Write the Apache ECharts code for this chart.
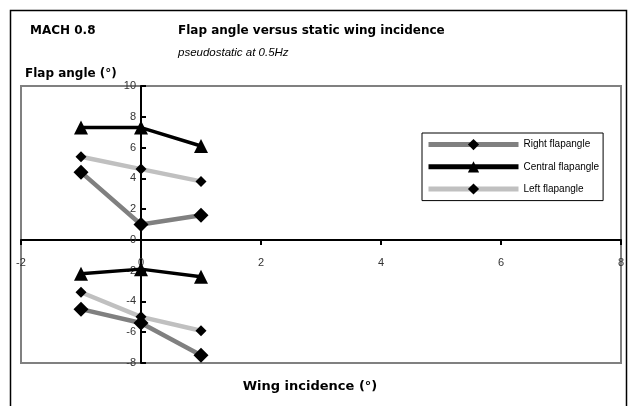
<!DOCTYPE html>
<html>
<head>
<meta charset="utf-8">
<script src="https://cdn.jsdelivr.net/npm/echarts@6/dist/echarts.min.js"></script>
<style>html,body{margin:0;padding:0;background:#fff;}#chart{width:629px;height:406px;}</style>
</head>
<body>
<div id="chart"></div>
<script>
// Data
const incidence = [-1, 0, 1];
const rightUpper = [4.4, 1.0, 1.6];
const rightLower = [-4.5, -5.4, -7.5];
const centralUpper = [7.3, 7.3, 6.1];
const centralLower = [-2.2, -1.9, -2.4];
const leftUpper = [5.4, 4.6, 3.8];
const leftLower = [-3.4, -5.0, -5.9];
const xTicks = { min: -2, max: 8, interval: 2 };
const yTicks = { min: -8, max: 10, interval: 2 };
const seriesNames = ['Right flapangle', 'Central flapangle', 'Left flapangle'];

const pairs = (ys) => incidence.map((x, i) => [x, ys[i]]);

const styles = {
  'Right flapangle': { color: '#808080', width: 4.5, symbol: 'diamond', size: 15 },
  'Central flapangle': { color: '#000000', width: 3.5, symbol: 'triangle', size: 14 },
  'Left flapangle': { color: '#c0c0c0', width: 4.5, symbol: 'diamond', size: 11 }
};

function mk(name, ys) {
  const s = styles[name];
  return {
    name: name, type: 'line', data: pairs(ys),
    symbol: s.symbol, symbolSize: s.size, showSymbol: true,
    lineStyle: { color: s.color, width: s.width },
    itemStyle: { color: '#000' },
    emphasis: { disabled: true }, animation: false
  };
}

const chart = echarts.init(document.getElementById('chart'));
const txtFont = 'DejaVu Sans';
const grid = { left: 21, right: 8, top: 86, bottom: 43 };
chart.setOption({
  animation: false,
  grid: Object.assign({ show: true, borderColor: '#808080', borderWidth: 2, containLabel: false }, grid),
  xAxis: {
    type: 'value', min: xTicks.min, max: xTicks.max, interval: xTicks.interval,
    axisLine: { onZero: false, lineStyle: { color: '#000', width: 2 } },
    axisTick: { show: true, inside: false, length: 5, lineStyle: { color: '#000', width: 2 } },
    axisLabel: { margin: 18, color: '#333', fontFamily: 'Liberation Sans', fontSize: 11 },
    splitLine: { show: false }
  },
  yAxis: {
    type: 'value', min: yTicks.min, max: yTicks.max, interval: yTicks.interval,
    axisLine: { onZero: false, lineStyle: { color: '#000', width: 2 } },
    axisTick: { show: true, inside: true, length: 5, lineStyle: { color: '#000', width: 2 } },
    axisLabel: { margin: 5, color: '#333', fontFamily: 'Liberation Sans', fontSize: 11 },
    splitLine: { show: false }
  },
  legend: {
    data: seriesNames.map(n => ({ name: n, lineStyle: { width: 5, color: styles[n].color } })),
    orient: 'vertical', left: 422, top: 133,
    itemWidth: 90, itemHeight: 14, itemGap: 11,
    padding: [6, 4, 6, 4], borderColor: '#000', borderWidth: 1, backgroundColor: '#fff',
    textStyle: { fontFamily: 'Liberation Sans', fontSize: 10, color: '#000' },
    selectedMode: false
  },
  graphic: [
    { type: 'rect', shape: { x: 10.5, y: 10.5, width: 616, height: 420 }, style: { fill: 'none', stroke: '#000', lineWidth: 1.5 }, silent: true, z: -1 },
    { type: 'text', x: 30, y: 31, style: { text: 'MACH 0.8', font: 'bold 12px "' + txtFont + '"', fill: '#000', textVerticalAlign: 'middle' } },
    { type: 'text', x: 178, y: 31, style: { text: 'Flap angle versus static wing incidence', font: 'bold 12px "' + txtFont + '"', fill: '#000', textVerticalAlign: 'middle' } },
    { type: 'text', x: 178, y: 53, style: { text: 'pseudostatic at 0.5Hz', font: 'italic 11.5px "Liberation Sans"', fill: '#000', textVerticalAlign: 'middle' } },
    { type: 'text', x: 25, y: 74, style: { text: 'Flap angle (°)', font: 'bold 12px "' + txtFont + '"', fill: '#000', textVerticalAlign: 'middle' } },
    { type: 'text', x: 310, y: 387, style: { text: 'Wing incidence (°)', font: 'bold 13px "' + txtFont + '"', fill: '#000', textAlign: 'center', textVerticalAlign: 'middle' } }
  ],
  series: [
    mk('Left flapangle', leftUpper),
    mk('Left flapangle', leftLower),
    mk('Right flapangle', rightUpper),
    mk('Right flapangle', rightLower),
    mk('Central flapangle', centralUpper),
    mk('Central flapangle', centralLower)
  ]
});
// Move each axis (line, ticks, labels) to cross at zero, using the chart's own scale
const origin = chart.convertToPixel({ gridIndex: 0 }, [0, 0]);
const chartH = chart.getHeight();
chart.setOption({
  xAxis: { offset: -((chartH - grid.bottom) - origin[1]) },
  yAxis: { offset: -(origin[0] - grid.left) }
});
</script>
</body>
</html>
